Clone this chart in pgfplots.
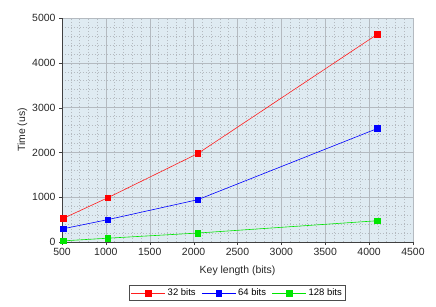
\documentclass[border=0pt]{standalone}
\usepackage{fontspec}
\setmainfont{Liberation Sans}
\usepackage{pgfplots}
\pgfplotsset{compat=1.18}
\definecolor{bgblue}{RGB}{223,235,242}
\definecolor{gridgray}{RGB}{180,186,192}
\definecolor{lgreen}{RGB}{0,230,0}
\definecolor{lred}{RGB}{255,30,30}
\begin{document}
\begin{tikzpicture}
\useasboundingbox (-62bp,-65bp) rectangle (374bp,242bp);
\begin{axis}[
  scale only axis,
  width=351bp, height=224bp,
  xmin=500, xmax=4500, ymin=0, ymax=5000,
  xtick={500,1000,...,4500}, ytick={0,1000,...,5000},
  minor x tick num=4, minor y tick num=4,
  grid=both,
  major grid style={solid, gridgray, line width=0.5pt},
  minor grid style={dashed, dash pattern=on 1.5bp off 1.5bp, gridgray, line width=0.5pt},
  axis background/.style={fill=bgblue},
  axis x line*=bottom, axis y line*=left,
  axis line style={black!75, line width=0.8pt},
  tick align=outside, major tick length=3bp, minor tick length=0pt,
  tick style={black!75},
  /pgf/number format/assume math mode=true,
  /pgf/number format/1000 sep={},
  tick label style={font=\fontsize{10.5}{12}\selectfont, black!85},
  label style={font=\fontsize{10.5}{12}\selectfont, black!85},
  xlabel={Key length (bits)}, ylabel={Time (us)},
  xlabel style={yshift=-3bp},
  ylabel style={yshift=-2bp},
  legend columns=3,
  legend style={at={(0.5,-0.192)}, anchor=north, font=\fontsize{9.5}{11}\selectfont,
    draw=black!70, line width=0.8pt, inner sep=1.5bp,
    /tikz/every even column/.append style={column sep=4bp}},
  legend image code/.code={
    \draw[#1, mark=none] (0cm,0cm) -- (1.2cm,0cm);
    \draw[#1, only marks] plot coordinates {(0.6cm,0cm)};
  },
]
\addplot[lred, line width=0.6pt, mark=square*, mark size=2.8bp, mark options={solid, fill=red, draw=red}]
  coordinates {(512,525) (1024,990) (2048,1975) (4096,4640)};
\addlegendentry{32 bits}
\addplot[blue, line width=0.6pt, mark=square*, mark size=2.8bp, mark options={solid, fill=blue}]
  coordinates {(512,295) (1024,500) (2048,945) (4096,2535)};
\addlegendentry{64 bits}
\addplot[lgreen, line width=0.6pt, mark=square*, mark size=2.8bp, mark options={solid, fill=lgreen}]
  coordinates {(512,25) (1024,85) (2048,200) (4096,475)};
\addlegendentry{128 bits}
\end{axis}
\end{tikzpicture}
\end{document}
